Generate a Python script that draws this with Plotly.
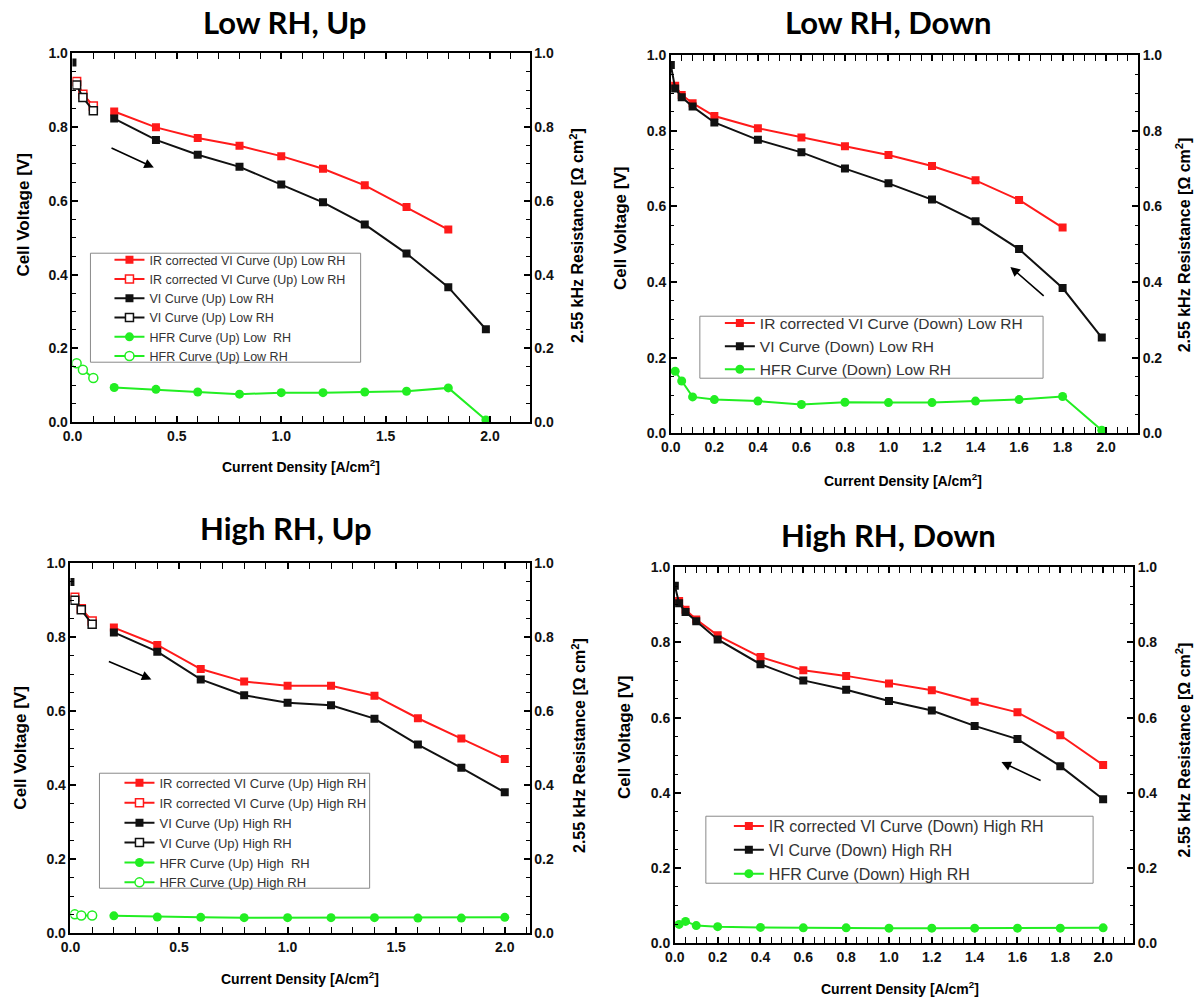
import plotly.graph_objects as go

OFF = 0
W, H = 1196, 1002
# measured mapping page-pixel -> photographed pixel (out = A + B * page)
AX, BX = 7.6, 0.991
AY, BY = 7.8, 0.984

# ---------------- data ----------------
# Panel 1: Low RH, Up
lu_ocv_x = [0.0]
lu_ocv_v = [0.975]
lu_open_x = [0.02, 0.05, 0.1]
lu_ir_open = [0.923, 0.889, 0.857]
lu_vi_open = [0.914, 0.880, 0.844]
lu_hfr_open = [0.160, 0.142, 0.120]
lu_x = [0.2, 0.4, 0.6, 0.8, 1.0, 1.2, 1.4, 1.6, 1.8, 1.98]
lu_ir = [0.842, 0.799, 0.770, 0.749, 0.721, 0.687, 0.642, 0.583, 0.522]
lu_vi = [0.823, 0.765, 0.725, 0.692, 0.644, 0.596, 0.536, 0.457, 0.366, 0.252]
lu_hfr = [0.094, 0.089, 0.082, 0.076, 0.080, 0.080, 0.082, 0.084, 0.093, 0.006]

# Panel 2: Low RH, Down
ld_vi_x = [0.0, 0.02, 0.05, 0.1, 0.2, 0.4, 0.6, 0.8, 1.0, 1.2, 1.4, 1.6, 1.8, 1.98]
ld_vi = [0.974, 0.912, 0.889, 0.864, 0.822, 0.776, 0.743, 0.700, 0.661, 0.618, 0.561, 0.487, 0.384, 0.253]
ld_ir_x = [0.02, 0.05, 0.1, 0.2, 0.4, 0.6, 0.8, 1.0, 1.2, 1.4, 1.6, 1.8]
ld_ir = [0.919, 0.895, 0.873, 0.839, 0.807, 0.782, 0.759, 0.736, 0.707, 0.669, 0.617, 0.544]
ld_hfr_x = [0.02, 0.05, 0.1, 0.2, 0.4, 0.6, 0.8, 1.0, 1.2, 1.4, 1.6, 1.8, 1.98]
ld_hfr = [0.164, 0.138, 0.096, 0.089, 0.085, 0.076, 0.082, 0.081, 0.081, 0.085, 0.089, 0.097, 0.008]

# Panel 3: High RH, Up
hu_ocv_x = [0.0]
hu_ocv_v = [0.949]
hu_open_x = [0.02, 0.05, 0.1]
hu_ir_open = [0.908, 0.877, 0.844]
hu_vi_open = [0.900, 0.874, 0.835]
hu_hfr_open = [0.051, 0.048, 0.048]
hu_x = [0.2, 0.4, 0.6, 0.8, 1.0, 1.2, 1.4, 1.6, 1.8, 2.0]
hu_ir = [0.826, 0.779, 0.714, 0.680, 0.669, 0.669, 0.642, 0.581, 0.526, 0.471]
hu_vi = [0.813, 0.761, 0.686, 0.643, 0.623, 0.616, 0.580, 0.510, 0.447, 0.381]
hu_hfr = [0.047, 0.044, 0.043, 0.042, 0.042, 0.042, 0.042, 0.041, 0.041, 0.043]

# Panel 4: High RH, Down
hd_vi_x = [0.0, 0.02, 0.05, 0.1, 0.2, 0.4, 0.6, 0.8, 1.0, 1.2, 1.4, 1.6, 1.8, 2.0]
hd_vi = [0.951, 0.904, 0.881, 0.856, 0.808, 0.742, 0.699, 0.674, 0.644, 0.619, 0.578, 0.543, 0.471, 0.383]
hd_ir_x = [0.02, 0.05, 0.1, 0.2, 0.4, 0.6, 0.8, 1.0, 1.2, 1.4, 1.6, 1.8, 2.0]
hd_ir = [0.910, 0.887, 0.861, 0.819, 0.761, 0.726, 0.711, 0.691, 0.673, 0.642, 0.614, 0.553, 0.474]
hd_hfr_x = [0.02, 0.05, 0.1, 0.2, 0.4, 0.6, 0.8, 1.0, 1.2, 1.4, 1.6, 1.8, 2.0]
hd_hfr = [0.050, 0.058, 0.047, 0.044, 0.042, 0.041, 0.041, 0.040, 0.040, 0.040, 0.040, 0.040, 0.041]

titles = ["Low RH, Up", "Low RH, Down", "High RH, Up", "High RH, Down"]

# ---------------- styling ----------------
RED = "#ff1a1a"
BLK = "#111111"
GRN = "#22ee22"
FONT = "Liberation Sans"

# target pixel geometry of plot areas: (x0, x1, ytop, ybottom, xmax, xmajor, xminor)
panels = [
    (70, 527, 53, 422, 2.19, 0.5, 0.1),
    (668, 1135, 55, 433, 2.147, 0.2, 0.05),
    (68, 527, 563, 933, 2.115, 0.5, 0.1),
    (672, 1130, 567, 943, 2.14, 0.2, 0.05),
]

fig = go.Figure()


def px_x(p):
    page = (p - AX) / BX
    return (page - OFF) / W


def px_y(p):
    page = (p - AY) / BY
    return 1 - (page - OFF) / H


def add(x, y, name, color, sym, filled, xa, ya, legend, msize=8):
    fig.add_trace(go.Scatter(
        x=x, y=y, name=name, mode="lines+markers",
        line=dict(color=color, width=2),
        marker=dict(symbol=sym, size=msize,
                    color=color if filled else "white",
                    line=dict(color=color, width=1.5 if not filled else 0)),
        xaxis=xa, yaxis=ya, legend=legend, connectgaps=False,
    ))


def gap_join(x1, y1, x2, y2):
    return x1 + [None] + x2, y1 + [None] + y2


# Panel 1
vx, vy = gap_join(lu_ocv_x, lu_ocv_v, lu_x, lu_vi)
add(lu_x[:len(lu_ir)], lu_ir, "IR corrected VI Curve (Up) Low RH", RED, "square", True, "x", "y", "legend")
add(lu_open_x, lu_ir_open, "IR corrected VI Curve (Up) Low RH", RED, "square", False, "x", "y", "legend")
add(vx, vy, "VI Curve (Up) Low RH", BLK, "square", True, "x", "y", "legend")
add(lu_open_x, lu_vi_open, "VI Curve (Up) Low RH", BLK, "square", False, "x", "y", "legend")
add(lu_x, lu_hfr, "HFR Curve (Up) Low\u00a0 RH", GRN, "circle", True, "x", "y5", "legend", 9)
add(lu_open_x, lu_hfr_open, "HFR Curve (Up) Low RH", GRN, "circle", False, "x", "y5", "legend", 9)

# Panel 2
add(ld_ir_x, ld_ir, "IR corrected VI Curve (Down) Low RH", RED, "square", True, "x2", "y2", "legend2")
add(ld_vi_x, ld_vi, "VI Curve (Down) Low RH", BLK, "square", True, "x2", "y2", "legend2")
add(ld_hfr_x, ld_hfr, "HFR Curve (Down) Low RH", GRN, "circle", True, "x2", "y6", "legend2", 9)

# Panel 3
vx, vy = gap_join(hu_ocv_x, hu_ocv_v, hu_x, hu_vi)
add(hu_x, hu_ir, "IR corrected VI Curve (Up) High RH", RED, "square", True, "x3", "y3", "legend3")
add(hu_open_x, hu_ir_open, "IR corrected VI Curve (Up) High RH", RED, "square", False, "x3", "y3", "legend3")
add(vx, vy, "VI Curve (Up) High RH", BLK, "square", True, "x3", "y3", "legend3")
add(hu_open_x, hu_vi_open, "VI Curve (Up) High RH", BLK, "square", False, "x3", "y3", "legend3")
add(hu_x, hu_hfr, "HFR Curve (Up) High\u00a0 RH", GRN, "circle", True, "x3", "y7", "legend3", 9)
add(hu_open_x, hu_hfr_open, "HFR Curve (Up) High RH", GRN, "circle", False, "x3", "y7", "legend3", 9)

# Panel 4
add(hd_ir_x, hd_ir, "IR corrected VI Curve (Down) High RH", RED, "square", True, "x4", "y4", "legend4")
add(hd_vi_x, hd_vi, "VI Curve (Down) High RH", BLK, "square", True, "x4", "y4", "legend4")
add(hd_hfr_x, hd_hfr, "HFR Curve (Down) High RH", GRN, "circle", True, "x4", "y8", "legend4", 9)

tickfont = dict(family=FONT, size=14, color="#111", weight="bold")
layout = dict(
    width=W, height=H, margin=dict(l=0, r=0, t=0, b=0),
    paper_bgcolor="white", plot_bgcolor="white", showlegend=True,
)

for i, (x0, x1, yt, yb, xmax, xmaj, xmin) in enumerate(panels, start=1):
    sx = "" if i == 1 else str(i)
    layout["xaxis" + sx] = dict(
        domain=[px_x(x0), px_x(x1)], range=[0, xmax], anchor="y" + sx,
        showgrid=False, zeroline=False, showline=True, linecolor="black", linewidth=1.5,
        mirror="allticks", ticks="inside", ticklen=6, tickwidth=1.5, tickcolor="black",
        dtick=xmaj, tick0=0, tickformat=".1f", tickfont=tickfont,
        minor=dict(dtick=xmin, tick0=0, ticks="inside", ticklen=3.5, tickwidth=1.2, tickcolor="black"),
    )
    common_y = dict(
        domain=[px_y(yb), px_y(yt)], range=[0, 1.0],
        showgrid=False, zeroline=False, showline=True, linecolor="black", linewidth=1.5,
        ticks="inside", ticklen=6, tickwidth=1.5, tickcolor="black",
        dtick=0.2, tick0=0, tickformat=".1f", tickfont=tickfont,
        minor=dict(dtick=0.05, tick0=0, ticks="inside", ticklen=3.5, tickwidth=1.2, tickcolor="black"),
    )
    layout["yaxis" + sx] = dict(common_y, anchor="x" + sx, side="left")
    layout["yaxis" + str(i + 4)] = dict(common_y, anchor="x" + sx, side="right",
                                         overlaying="y" + sx)

# legend boxes (target px): (box x0, x1, y0, y1, line start x, first row y, font size)
legend_geo = [
    (88, 358, 253, 362, 112, 261, 12.5),
    (697, 1040, 316, 378, 722, 324, 15.5),
    (97, 367, 773, 888, 122, 784, 13),
    (703, 1090, 816, 883, 731, 827, 16),
]
shapes = []
for i, (bx0, bx1, by0, by1, lsx, fr, fs) in enumerate(legend_geo, start=1):
    key = "legend" if i == 1 else "legend" + str(i)
    layout[key] = dict(
        x=px_x(lsx - 5), y=px_y(fr - 16 - (fs - 12.5) * 0.6), xanchor="left", yanchor="top",
        bgcolor="rgba(0,0,0,0)", borderwidth=0,
        font=dict(family=FONT, size=fs, color="#333"),
        tracegroupgap=0, itemwidth=30, traceorder="normal",
    )
    shapes.append(dict(type="rect", xref="paper", yref="paper",
                       x0=px_x(bx0), x1=px_x(bx1), y0=px_y(by1), y1=px_y(by0),
                       fillcolor="white", line=dict(color="#8a8a8a", width=1), layer="above"))
layout["shapes"] = shapes

fig.update_layout(**layout)

annots = []
# panel titles
title_pos = [(282, 22), (886, 22), (283, 528), (886, 535)]
for t, (cx, cy) in zip(titles, title_pos):
    annots.append(dict(text="<b>" + t + "</b>", x=px_x(cx), y=px_y(cy), xref="paper", yref="paper",
                       showarrow=False, font=dict(family="Lato", size=31, color="black"),
                       xanchor="center", yanchor="middle"))
# axis titles
xt_pos = [(298, 466), (900, 480), (297, 978), (897, 988)]
yl_pos = [(21, 215), (617, 228), (18, 748), (621, 737)]
yr_pos = [(574, 235), (1180, 245), (576, 745), (1180, 750)]
for (cx, cy) in xt_pos:
    annots.append(dict(text="<b>Current Density [A/cm<sup>2</sup>]</b>", x=px_x(cx), y=px_y(cy),
                       xref="paper", yref="paper", showarrow=False,
                       xanchor="center", yanchor="middle",
                       font=dict(family=FONT, size=14, color="black")))
for (cx, cy) in yl_pos:
    annots.append(dict(text="<b>Cell Voltage [V]</b>", x=px_x(cx), y=px_y(cy),
                       xref="paper", yref="paper", showarrow=False, textangle=-90,
                       xanchor="center", yanchor="middle",
                       font=dict(family=FONT, size=17, color="black")))
for (cx, cy) in yr_pos:
    annots.append(dict(text="<b>2.55 kHz Resistance [\u03a9 cm<sup>2</sup>]</b>", x=px_x(cx), y=px_y(cy),
                       xref="paper", yref="paper", showarrow=False, textangle=-90,
                       xanchor="center", yanchor="middle",
                       font=dict(family=FONT, size=16, color="black")))

# direction arrows (head, tail) in data coords
arrows = [
    ("x", "y", (0.39, 0.69), (0.18, 0.745)),
    ("x2", "y2", (1.56, 0.44), (1.72, 0.36)),
    ("x3", "y3", (0.373, 0.686), (0.17, 0.736)),
    ("x4", "y4", (1.525, 0.482), (1.715, 0.431)),
]
for xa, ya, head, tail in arrows:
    annots.append(dict(x=head[0], y=head[1], ax=tail[0], ay=tail[1], xref=xa, yref=ya,
                       axref=xa, ayref=ya, showarrow=True, arrowhead=2, arrowsize=1.2,
                       arrowwidth=1.6, arrowcolor="black", text=""))

fig.update_layout(annotations=annots)
fig.write_html("out.html", config={"displayModeBar": False},
               post_script="document.body.style.margin='0px';document.body.style.overflow='hidden';")
